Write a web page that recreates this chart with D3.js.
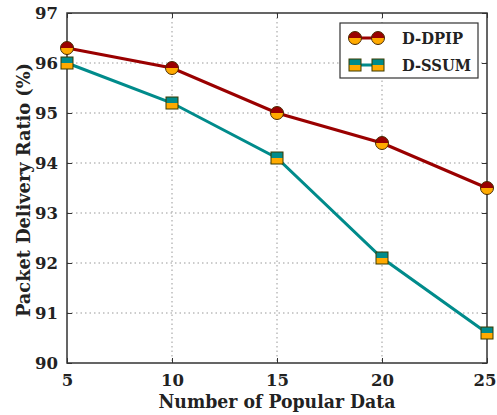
<!DOCTYPE html>
<html>
<head>
<meta charset="utf-8">
<script src="https://cdn.jsdelivr.net/npm/d3@7"></script>
<style>
  body { margin: 0; background: #fff; }
  svg text { font-family: "DejaVu Serif", "Liberation Serif", serif; font-weight: bold; fill: #222; }
</style>
</head>
<body>
<div id="chart"></div>
<script>
// values
const popular = [5, 10, 15, 20, 25];
const ddpip = [96.3, 95.9, 95.0, 94.4, 93.5];
const dssum = [96.0, 95.2, 94.1, 92.1, 90.6];
const xTicks = [5, 10, 15, 20, 25];
const yTicks = [90, 91, 92, 93, 94, 95, 96, 97];

var margin = {top: 13, right: 10, bottom: 52, left: 67},
    width = 497 - margin.left - margin.right,
    height = 415 - margin.top - margin.bottom;

var svg = d3.select('#chart')
  .append('svg')
    .attr('width', 497)
    .attr('height', 415)
  .append('g')
    .attr('transform', 'translate(' + margin.left + ',' + margin.top + ')');

var x = d3.scaleLinear().domain([5, 25]).range([0, width]);
var y = d3.scaleLinear().domain([90, 97]).range([height, 0]);

// dotted grid
svg.append('g').selectAll('line')
  .data(xTicks.slice(1, -1))
  .join('line')
    .attr('x1', d => x(d)).attr('x2', d => x(d))
    .attr('y1', 0).attr('y2', height)
    .attr('stroke', '#999').attr('stroke-width', 1)
    .attr('stroke-dasharray', '1.5,3');
svg.append('g').selectAll('line')
  .data(yTicks.slice(1, -1))
  .join('line')
    .attr('x1', 0).attr('x2', width)
    .attr('y1', d => y(d)).attr('y2', d => y(d))
    .attr('stroke', '#999').attr('stroke-width', 1)
    .attr('stroke-dasharray', '1.5,3');

// axes, ticks point inward
var fmt = d3.format('d');
var xb = svg.append('g').attr('transform', 'translate(0,' + height + ')')
  .call(d3.axisBottom(x).tickValues(xTicks).tickSize(-5).tickPadding(11).tickFormat(fmt));
var xt = svg.append('g')
  .call(d3.axisTop(x).tickValues(xTicks).tickSize(-5).tickFormat(''));
var yl = svg.append('g')
  .call(d3.axisLeft(y).tickValues(yTicks).tickSize(-5).tickPadding(9).tickFormat(fmt));
var yr = svg.append('g').attr('transform', 'translate(' + width + ',0)')
  .call(d3.axisRight(y).tickValues(yTicks).tickSize(-5).tickFormat(''));

[xb, xt, yl, yr].forEach(g => {
  g.select('.domain').remove();
  g.selectAll('line').attr('stroke', '#333').attr('stroke-width', 1);
  g.selectAll('text').attr('font-size', 16.5).attr('fill', '#222')
    .attr('font-family', '"DejaVu Serif", serif');
});
// last x label sits at the right edge of the image
xb.selectAll('.tick text').filter(d => d === 25)
  .attr('text-anchor', 'end').attr('dx', 9);

svg.append('rect')
  .attr('width', width).attr('height', height)
  .attr('fill', 'none').attr('stroke', '#333').attr('stroke-width', 1.5);

var line = d3.line()
  .x((d, i) => x(popular[i]))
  .y(d => y(d));

var red = '#9a0000', teal = '#008b8b', orange = '#ffaa00';

svg.append('path').datum(ddpip)
  .attr('fill', 'none').attr('stroke', red).attr('stroke-width', 3)
  .attr('d', line);
svg.append('path').datum(dssum)
  .attr('fill', 'none').attr('stroke', teal).attr('stroke-width', 3)
  .attr('d', line);

function circleMarker(g, cx, cy, r) {
  g.append('path')
    .attr('d', 'M' + (cx - r) + ',' + cy + 'A' + r + ',' + r + ' 0 0,1 ' + (cx + r) + ',' + cy + 'Z')
    .attr('fill', red);
  g.append('path')
    .attr('d', 'M' + (cx - r) + ',' + cy + 'A' + r + ',' + r + ' 0 0,0 ' + (cx + r) + ',' + cy + 'Z')
    .attr('fill', orange);
  g.append('circle').attr('cx', cx).attr('cy', cy).attr('r', r)
    .attr('fill', 'none').attr('stroke', '#4a2a00').attr('stroke-width', 1);
}
function squareMarker(g, cx, cy, s) {
  g.append('rect').attr('x', cx - s / 2).attr('y', cy - s / 2)
    .attr('width', s).attr('height', s / 2).attr('fill', teal);
  g.append('rect').attr('x', cx - s / 2).attr('y', cy)
    .attr('width', s).attr('height', s / 2).attr('fill', orange);
  g.append('rect').attr('x', cx - s / 2).attr('y', cy - s / 2)
    .attr('width', s).attr('height', s)
    .attr('fill', 'none').attr('stroke', '#3a3a00').attr('stroke-width', 1);
}

var marks = svg.append('g');
ddpip.forEach((v, i) => circleMarker(marks, x(popular[i]), y(v), 6.5));
dssum.forEach((v, i) => squareMarker(marks, x(popular[i]), y(v), 12));

// legend
var lg = svg.append('g').attr('transform', 'translate(' + (340 - margin.left) + ',' + (23 - margin.top) + ')');
lg.append('rect').attr('width', 138).attr('height', 55)
  .attr('fill', '#fff').attr('stroke', '#333').attr('stroke-width', 1.2);
var series = [
  {name: 'D-DPIP', color: red, marker: circleMarker, size: 6.5, len: 61},
  {name: 'D-SSUM', color: teal, marker: squareMarker, size: 12, len: 69}
];
series.forEach((s, i) => {
  var yy = 15 + i * 27;
  lg.append('line').attr('x1', 15).attr('x2', 38).attr('y1', yy).attr('y2', yy)
    .attr('stroke', s.color).attr('stroke-width', 3);
  s.marker(lg, 15, yy, s.size);
  s.marker(lg, 38, yy, s.size);
  lg.append('text').attr('x', 62).attr('y', yy + 6)
    .attr('font-size', 16)
    .attr('textLength', s.len).attr('lengthAdjust', 'spacingAndGlyphs')
    .text(s.name);
});

// axis titles
svg.append('text')
  .attr('x', width / 2).attr('y', height + 45)
  .attr('text-anchor', 'middle').attr('font-size', 19)
  .attr('textLength', 237).attr('lengthAdjust', 'spacingAndGlyphs')
  .text('Number of Popular Data');
svg.append('text')
  .attr('transform', 'translate(' + (-37) + ',' + (190 - margin.top) + ') rotate(-90)')
  .attr('text-anchor', 'middle').attr('font-size', 18)
  .attr('textLength', 254).attr('lengthAdjust', 'spacingAndGlyphs')
  .text('Packet Delivery Ratio (%)');
</script>
</body>
</html>
